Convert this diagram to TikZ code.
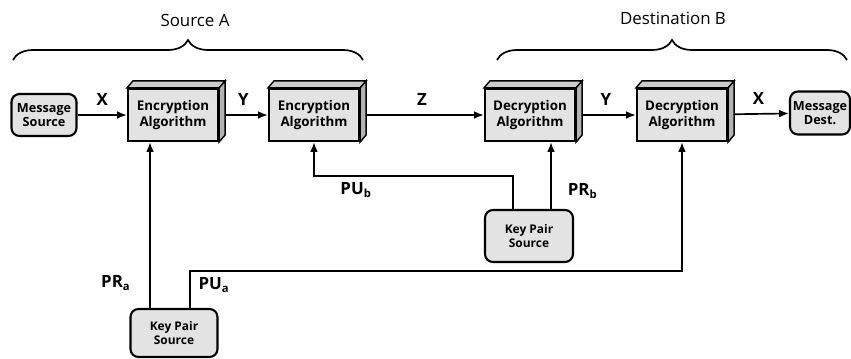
\documentclass[tikz,border=0pt]{standalone}
\usepackage{fontspec}
\setmainfont{Open Sans}
\usetikzlibrary{arrows.meta,calc,decorations.pathreplacing}

\begin{document}
\begin{tikzpicture}[
      x=0.025cm, y=-0.025cm,
      algo/.style={draw,line width=1.5pt,fill=gray!22,minimum width=2.25cm,minimum height=1.3cm,
        align=center,inner sep=1pt,font=\fontsize{9.5}{11}\selectfont\bfseries},
      rbox/.style={draw,line width=1.5pt,fill=gray!22,rounded corners=0.2cm,align=center,
        inner sep=0pt,font=\fontsize{9}{10.5}\selectfont\bfseries},
      face/.style={line width=1pt},
      flow/.style={line width=1.2pt,-{Latex[length=7pt,width=5.5pt]}},
      lbl/.style={font=\fontsize{12}{13}\selectfont\bfseries},
      brace/.style={line width=1.2pt,decorate,decoration={brace,amplitude=0.5cm}}
      ]
      \useasboundingbox (0,0) rectangle (851,358);
      \node[rbox,minimum width=1.625cm,minimum height=1.05cm] (msrc) at (44,115) {Message\\Source};
      \node[algo] (enc1) at (173,115) {Encryption\\Algorithm};
      \node[algo] (enc2) at (314,115) {Encryption\\Algorithm};
      \node[algo] (dec1) at (530,115) {Decryption\\Algorithm};
      \node[algo] (dec2) at (682,115) {Decryption\\Algorithm};
      \node[rbox,minimum width=1.5cm,minimum height=1.075cm] (mdst) at (820,113) {Message\\Dest.};
      \node[rbox,minimum width=2.175cm,minimum height=1.2cm,font=\fontsize{8.5}{10}\selectfont\bfseries]
        (ka) at (174,333) {Key Pair\\Source};
      \node[rbox,minimum width=2.2cm,minimum height=1.3cm,font=\fontsize{8.5}{10}\selectfont\bfseries]
        (kb) at (529,236) {Key Pair\\Source};
      \node[font=\fontsize{12}{14}\selectfont] (srca) at (195,20) {Source A};
      \node[font=\fontsize{12}{14}\selectfont] (dstb) at (673,18) {Destination B};
      \draw[brace] (13,60) -- (363,60);
      \draw[brace] (497,60) -- (847,60);
      \draw[flow] (msrc) -- (enc1) node[lbl,midway,above=3pt] {X};
      \draw[flow] (enc1) -- (enc2) node[lbl,midway,above=3pt] {Y};
      \draw[flow] (enc2) -- (dec1) node[lbl,midway,above=3pt] {Z};
      \draw[flow] (dec1) -- (dec2) node[lbl,midway,above=3pt] {Y};
      \draw[flow] (dec2) -- (mdst) node[lbl,midway,above=3pt] {X};
      \draw[flow] ($(ka.north)+(-24,0)$) -- ($(enc1.south)+(-23,0)$)
        node[lbl,pos=0.15,left=10pt] {PR\textsubscript{a}};
      \draw[flow] ($(ka.north)+(16,0)$) |- ($(dec2.south)+(0,129)$) -- (dec2.south);
      \node[lbl] (pua) at (214,285) {PU\textsubscript{a}};
      \draw[flow] ($(kb.north)+(-16,0)$) |- ($(enc2.south)+(0,34)$) -- (enc2.south);
      \node[lbl] (pub) at (356,190) {PU\textsubscript{b}};
      \draw[flow] ($(kb.north)+(22,0)$) -- ($(dec1.south)+(21,0)$)
        node[lbl,pos=0.27,right=8pt] {PR\textsubscript{b}};
      \foreach \n in {enc1,enc2,dec1,dec2} {
        \filldraw[face,fill=gray!40] (\n.north west) -- ++(6,-7) -- ($(\n.north east)+(6,-7)$)
          -- (\n.north east) -- cycle;
        \filldraw[face,fill=gray!60] (\n.north east) -- ++(6,-7) -- ($(\n.south east)+(6,-7)$)
          -- (\n.south east) -- cycle;
      }
    \end{tikzpicture}
\end{document}
